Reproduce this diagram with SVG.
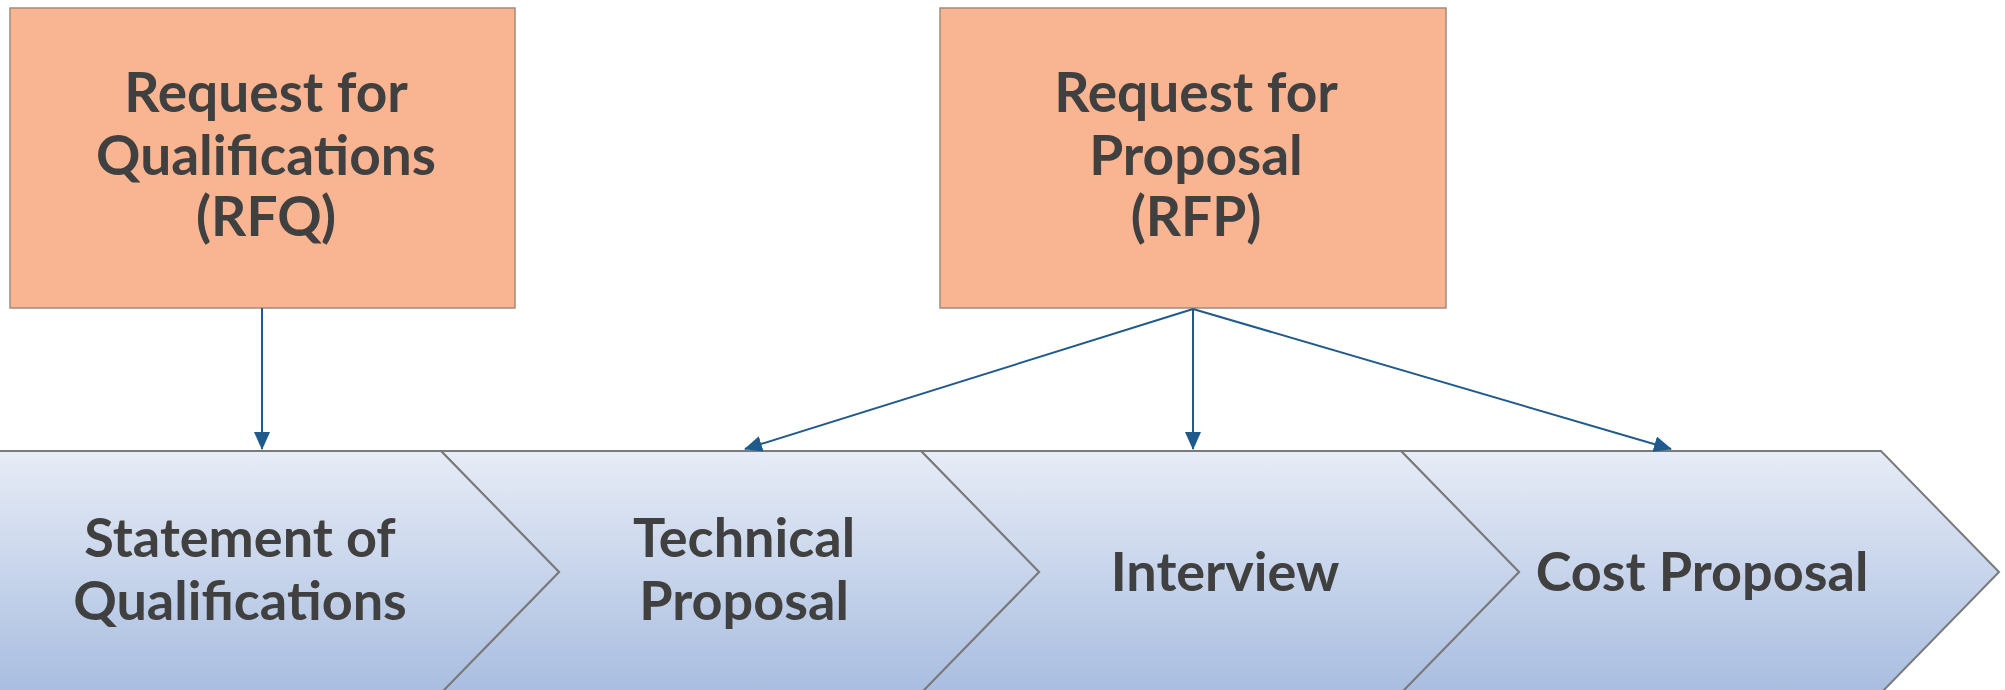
<svg xmlns="http://www.w3.org/2000/svg" width="2005" height="690" viewBox="0 0 2005 690">
<defs>
<linearGradient id="chev" x1="0" y1="0" x2="0" y2="1">
<stop offset="0" stop-color="#E7ECF6"/>
<stop offset="1" stop-color="#A8BDE0"/>
</linearGradient>
<marker id="ahb" markerWidth="18" markerHeight="16" refX="17" refY="8" orient="auto" markerUnits="userSpaceOnUse" viewBox="0 0 18 16">
<path d="M0,0 L18,8 L0,16 z" fill="#1F5A8C"/>
</marker>
</defs>
<style>
.box{fill:#F9B592;stroke:#A08A7E;stroke-width:1.5}
.chev{fill:url(#chev);stroke:#7A7A7A;stroke-width:2}
.t{font-family:Lato,"Open Sans","Liberation Sans",sans-serif;font-weight:bold;fill:#404040;text-anchor:middle}
.bt{font-size:55px}
.ct{font-size:54px}
.conn{stroke:#1F5A8C;stroke-width:2;fill:none;marker-end:url(#ahb)}
</style>
<rect width="2005" height="690" fill="#FFFFFF"/>
<g id="stage4">
<path class="chev" d="M1401,451 L1881,451 L1999,572 L1881,693 L1401,693 L1519,572 Z"/>
<text class="t ct" x="1702" y="591">Cost Proposal</text>
</g>
<g id="stage3">
<path class="chev" d="M921,451 L1401,451 L1519,572 L1401,693 L921,693 L1039,572 Z"/>
<text class="t ct" x="1225" y="591">Interview</text>
</g>
<g id="stage2">
<path class="chev" d="M441,451 L921,451 L1039,572 L921,693 L441,693 L559,572 Z"/>
<text class="t ct" x="744" y="557">Technical</text>
<text class="t ct" x="744" y="620">Proposal</text>
</g>
<g id="stage1">
<path class="chev" d="M-20,451 L441,451 L559,572 L441,693 L-20,693 Z"/>
<text class="t ct" x="240" y="557">Statement of</text>
<text class="t ct" x="240" y="620">Qualifications</text>
</g>
<g id="rfq">
<rect class="box" x="10" y="8" width="505" height="300"/>
<text class="t bt" x="266" y="112">Request for</text>
<text class="t bt" x="266" y="175">Qualifications</text>
<text class="t bt" x="266" y="236">(RFQ)</text>
</g>
<g id="rfp">
<rect class="box" x="940" y="8" width="506" height="300"/>
<text class="t bt" x="1196" y="112">Request for</text>
<text class="t bt" x="1196" y="175">Proposal</text>
<text class="t bt" x="1196" y="236">(RFP)</text>
</g>
<g id="connectors">
<line class="conn" x1="262" y1="308" x2="262" y2="449"/>
<line class="conn" x1="1193" y1="309" x2="745" y2="449"/>
<line class="conn" x1="1193" y1="309" x2="1193" y2="449"/>
<line class="conn" x1="1193" y1="309" x2="1671" y2="449"/>
</g>
</svg>
